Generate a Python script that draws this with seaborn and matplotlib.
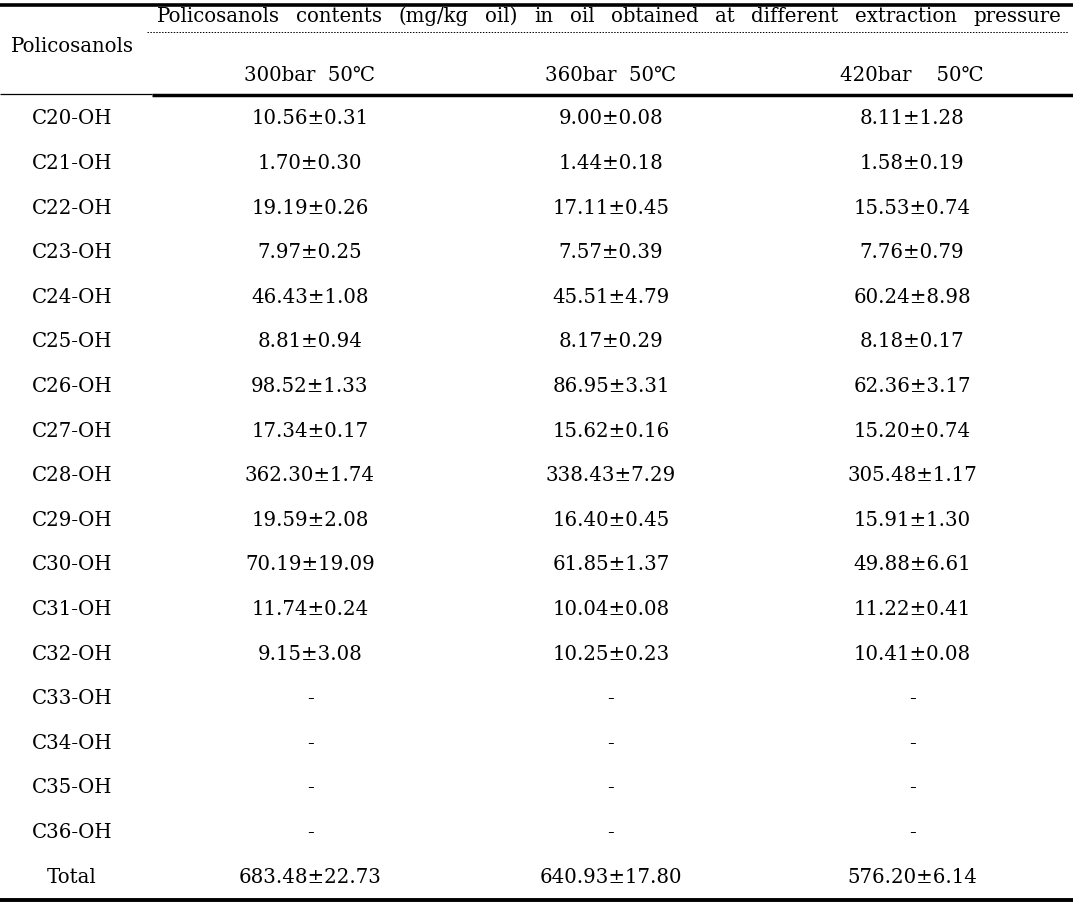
import numpy as np
import matplotlib
matplotlib.use("Agg")
import matplotlib.pyplot as plt
from matplotlib.colors import ListedColormap
import seaborn as sns

# Table content
compounds = ["C20-OH", "C21-OH", "C22-OH", "C23-OH", "C24-OH", "C25-OH",
             "C26-OH", "C27-OH", "C28-OH", "C29-OH", "C30-OH", "C31-OH",
             "C32-OH", "C33-OH", "C34-OH", "C35-OH", "C36-OH", "Total"]
conditions = ["300bar  50\u2103", "360bar  50\u2103", "420bar    50\u2103"]

mean_300 = [10.56, 1.70, 19.19, 7.97, 46.43, 8.81, 98.52, 17.34, 362.30, 19.59,
            70.19, 11.74, 9.15, None, None, None, None, 683.48]
sd_300 = [0.31, 0.30, 0.26, 0.25, 1.08, 0.94, 1.33, 0.17, 1.74, 2.08,
          19.09, 0.24, 3.08, None, None, None, None, 22.73]
mean_360 = [9.00, 1.44, 17.11, 7.57, 45.51, 8.17, 86.95, 15.62, 338.43, 16.40,
            61.85, 10.04, 10.25, None, None, None, None, 640.93]
sd_360 = [0.08, 0.18, 0.45, 0.39, 4.79, 0.29, 3.31, 0.16, 7.29, 0.45,
          1.37, 0.08, 0.23, None, None, None, None, 17.80]
mean_420 = [8.11, 1.58, 15.53, 7.76, 60.24, 8.18, 62.36, 15.20, 305.48, 15.91,
            49.88, 11.22, 10.41, None, None, None, None, 576.20]
sd_420 = [1.28, 0.19, 0.74, 0.79, 8.98, 0.17, 3.17, 0.74, 1.17, 1.30,
          6.61, 0.41, 0.08, None, None, None, None, 6.14]

header_top = ("Policosanols contents (mg/kg oil) in oil obtained "
              "at different extraction pressure")
row_header = "Policosanols"


def fmt(m, s):
    if m is None:
        return "-"
    return f"{m:.2f}\u00b1{s:.2f}"


cells = np.array([[fmt(a, b), fmt(c, d), fmt(e, f)]
                  for a, b, c, d, e, f in zip(mean_300, sd_300, mean_360,
                                              sd_360, mean_420, sd_420)])

sns.set_theme(style="white")
fonts = ["DejaVu Serif", "DejaVu Sans", "Noto Sans CJK KR"]
plt.rcParams["font.family"] = fonts
fs = 14.2

W, H = 1073, 911
fig = plt.figure(figsize=(W / 100, H / 100), dpi=100)
fig.patch.set_facecolor("white")

# body drawn as a seaborn heatmap with transparent cells and text annotations
left, right, top, bottom = 159.5, 1062.5, 96.7, 899.3
hax = fig.add_axes([left / W, (H - bottom) / H, (right - left) / W, (bottom - top) / H])
sns.heatmap(np.zeros(cells.shape), annot=cells, fmt="",
            cmap=ListedColormap([(1, 1, 1, 0)]),
            cbar=False, xticklabels=False, yticklabels=False, ax=hax,
            annot_kws={"color": "black", "fontsize": fs, "family": fonts})
hax.axis("off")
hax.patch.set_alpha(0)

col_w = (right - left) / len(conditions)
for i, name in enumerate(compounds):
    hax.text((72 - left) / col_w, i + 0.5, name, ha="center", va="center",
             fontsize=fs, color="black", clip_on=False)

# overlay axes in pixel units for header and rules (drawn on top)
bg = fig.add_axes([0, 0, 1, 1])
bg.set_xlim(0, W)
bg.set_ylim(H, 0)
bg.axis("off")
bg.patch.set_alpha(0)

bg.text(72, 47, row_header, ha="center", va="center", fontsize=fs, color="black")
for j, cond in enumerate(conditions):
    bg.text(left + col_w * (j + 0.5), 75, cond, ha="center", va="center",
            fontsize=fs, color="black")

# justified top header line
words = header_top.split()
wtexts = [bg.text(0, 16.5, w, ha="left", va="center", fontsize=fs, color="black")
          for w in words]
fig.canvas.draw()
rend = fig.canvas.get_renderer()
widths = [t.get_window_extent(rend).width for t in wtexts]
x0, x1 = 157, 1061
gap = (x1 - x0 - sum(widths)) / (len(words) - 1)
x = x0
for t, w in zip(wtexts, widths):
    t.set_x(x)
    x += w + gap

# rules
bg.plot([0, W], [5, 5], color="black", lw=2.6, solid_capstyle="butt")
bg.plot([147, 1068], [31.5, 31.5], color="black", lw=0.7, ls=(0, (1.5, 1.5)))
bg.plot([0, 152], [94, 94], color="black", lw=0.9, solid_capstyle="butt")
bg.plot([152, W], [94.5, 94.5], color="black", lw=2.5, solid_capstyle="butt")
bg.plot([0, W], [900, 900], color="black", lw=2.8, solid_capstyle="butt")

fig.savefig("out.png", dpi=100, facecolor="white")
